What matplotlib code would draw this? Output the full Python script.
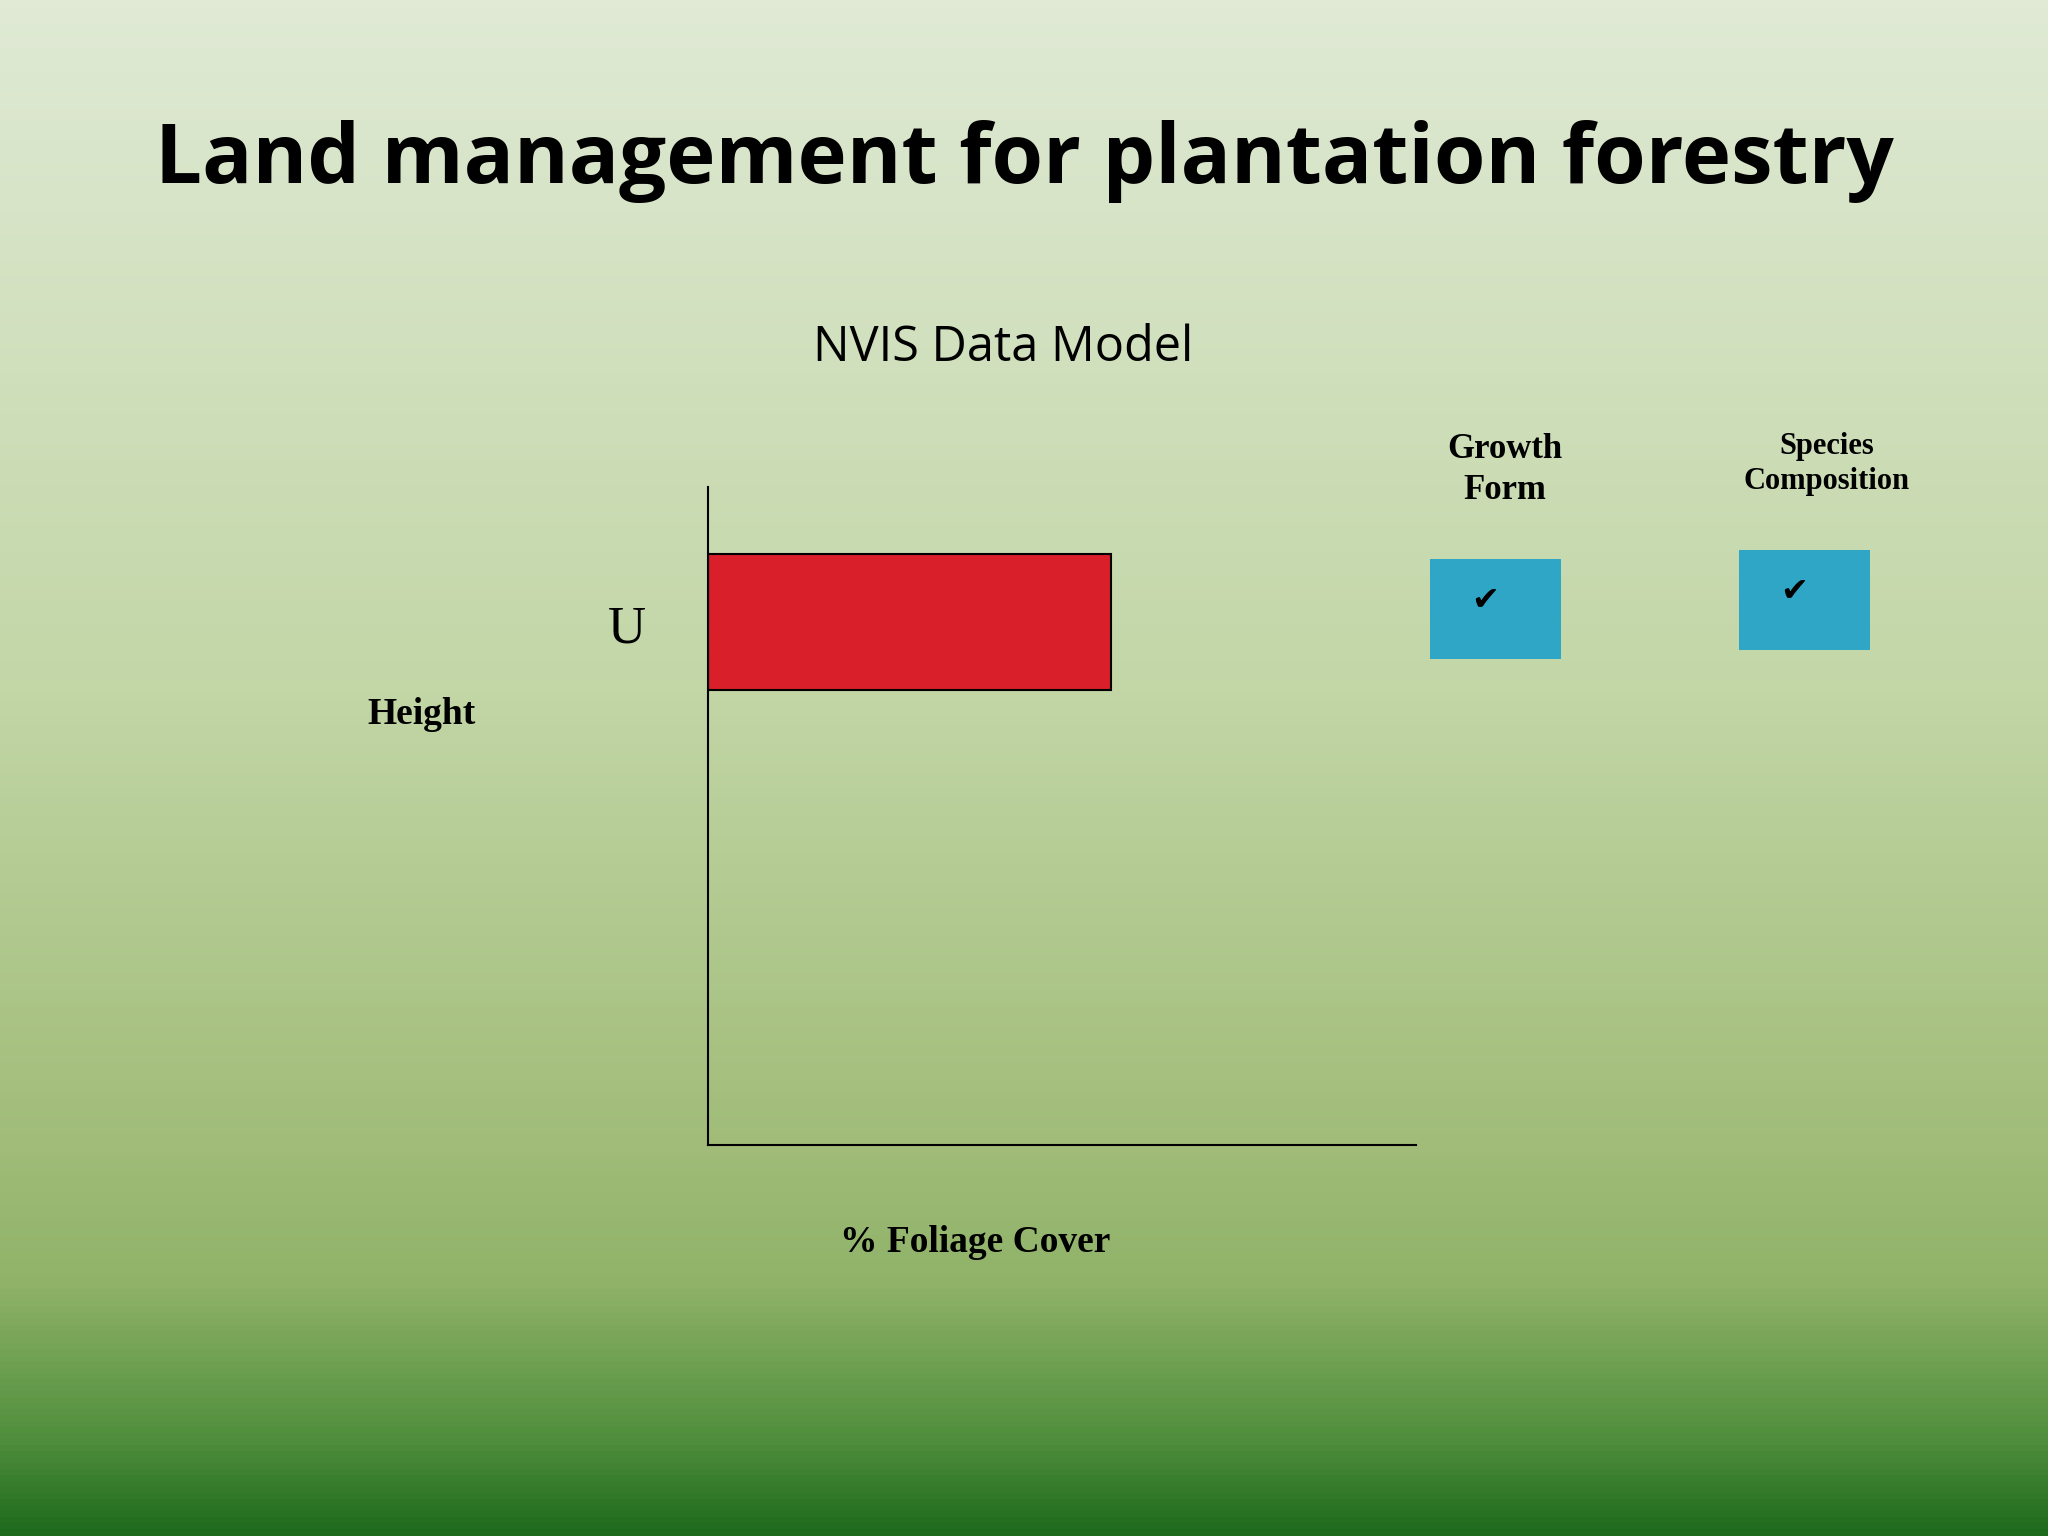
import numpy as np
import matplotlib
matplotlib.use("Agg")
import matplotlib.pyplot as plt
from matplotlib.colors import LinearSegmentedColormap
from matplotlib.patches import Rectangle

categories = ['U']
cover = [57]
checks = ['Growth\nForm', 'Species\nComposition']

fig = plt.figure(figsize=(20.48, 15.36), dpi=100)

# background gradient
bg = fig.add_axes([0, 0, 1, 1])
cmap = LinearSegmentedColormap.from_list('g', [
    (0.0, '#1e6a1c'), (0.06, '#4f8e3c'), (0.16, '#8fb268'), (0.25, '#a0bc78'),
    (0.55, '#c2d6a6'), (1.0, '#e0ead5')])
grad = np.linspace(0, 1, 512).reshape(-1, 1)
bg.imshow(grad, aspect='auto', cmap=cmap, origin='lower', extent=[0, 1, 0, 1])
bg.axis('off')

fig.text(0.5, 0.895, 'Land management for plantation forestry', ha='center', va='center',
         fontsize=60, fontweight='bold', family='Open Sans')
fig.text(0.49, 0.773, 'NVIS Data Model', ha='center', va='center', fontsize=35, family='Open Sans')

ax = fig.add_axes([0.3457, 0.2543, 0.3456, 0.4285])
ax.patch.set_alpha(0)
ax.set_xlim(0, 100)
ax.set_ylim(0, 1)
ax.barh([0.795], cover, height=0.206, left=0, color='#d91f2a', edgecolor='black', linewidth=1.5)
for s in ['top', 'right']:
    ax.spines[s].set_visible(False)
ax.spines['left'].set_linewidth(1.5)
ax.spines['bottom'].set_linewidth(1.5)
ax.set_xticks([])
ax.set_yticks([])

serif = 'Liberation Serif'
fig.text(0.306, 0.590, categories[0], ha='center', va='center', fontsize=38, family=serif)
fig.text(0.206, 0.535, 'Height', ha='center', va='center', fontsize=27, fontweight='bold', family=serif)
fig.text(0.476, 0.191, '% Foliage Cover', ha='center', va='center', fontsize=27, fontweight='bold', family=serif)

labels_pos = [(0.735, 0.694, 25), (0.892, 0.698, 22)]
boxes = [(0.698, 0.571), (0.849, 0.577)]
for lab, (lx, ly, fs), (bx, by) in zip(checks, labels_pos, boxes):
    fig.text(lx, ly, lab, ha='center', va='center', fontsize=fs, fontweight='bold',
             family=serif, linespacing=1.3)
    fig.patches.append(Rectangle((bx, by), 0.064, 0.065, transform=fig.transFigure,
                                 facecolor='#2fa6c6', edgecolor='none'))
    fig.text(bx + 0.027, by + 0.038, '\u2714', ha='center', va='center', fontsize=24,
             family='DejaVu Sans', color='black')

fig.savefig('out.png', dpi=100)
